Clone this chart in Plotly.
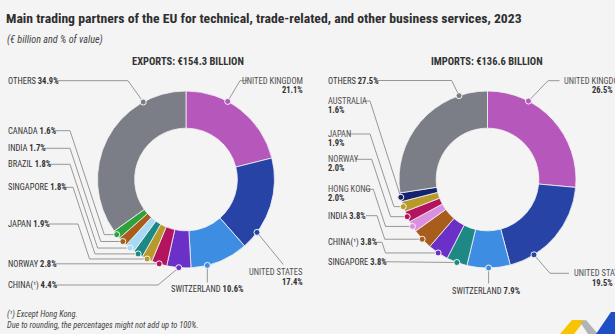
import math
import plotly.graph_objects as go

W, H = 615, 334
BG = "#F4F4F4"
FONT = "Roboto Condensed, Liberation Sans Narrow, Lato, sans-serif"

# ---------------- data ----------------
exp_labels = ["UNITED KINGDOM", "UNITED STATES", "SWITZERLAND", "CHINA(¹)", "NORWAY",
              "JAPAN", "SINGAPORE", "BRAZIL", "INDIA", "CANADA", "OTHERS"]
exp_values = [21.1, 17.4, 10.6, 4.4, 2.8, 1.9, 1.8, 1.8, 1.7, 1.6, 34.9]
exp_total = 154.3

imp_labels = ["UNITED KINGDOM", "UNITED STATES", "SWITZERLAND", "SINGAPORE", "CHINA(¹)",
              "INDIA", "HONG KONG", "NORWAY", "JAPAN", "AUSTRALIA", "OTHERS"]
imp_values = [26.5, 19.5, 7.9, 3.8, 3.8, 3.8, 2.0, 2.0, 1.9, 1.6, 27.5]
imp_total = 136.6

COLOR = {
    "UNITED KINGDOM": "#B657BC", "UNITED STATES": "#2743A6", "SWITZERLAND": "#3D8EE3",
    "CHINA(¹)": "#6B30C8", "NORWAY": "#B3145F", "JAPAN": "#B89A2A", "SINGAPORE": "#1E8884",
    "BRAZIL": "#A8DAF6", "INDIA": "#A85D1C", "CANADA": "#2EA23A", "OTHERS": "#7B7E86",
    "HONG KONG": "#DB8FE0", "AUSTRALIA": "#14236E",
}

# ---------------- layout (pixels) ----------------
R = 88.5
EXP_C = (186.0, 179.5)
IMP_C = (487.5, 179.5)
HOLE = 0.58
LS = 8.5  # label font size

# where along each slice (0..1) the leader dot sits
exp_anchor = [0.37, 0.81, 0.72, 0.5, 0.5, 0.5, 0.5, 0.5, 0.5, 0.5, 0.77]
imp_anchor = [0.29, 0.76, 0.5, 0.5, 0.5, 0.5, 0.5, 0.5, 0.5, 0.5, 0.81]

exp_lab = {
    "UNITED KINGDOM": dict(lines=[("UNITED KINGDOM", 80.7, False), ("21.1%", 89.9, True)], x=305, xa="right",
                           path=("pre", [(248, 80.7), (240, 80.7)])),
    "UNITED STATES": dict(lines=[("UNITED STATES", 271.7, False), ("17.4%", 281.7, True)], x=305, xa="right",
                          path=("post", [(283.3, 264.5)])),
    "SWITZERLAND": dict(lines=[("SWITZERLAND <b>10.6%</b>", 289.3, None)], x=207, xa="center",
                        path=("down", 282.5)),
    "CHINA(¹)": dict(lines=[("CHINA(¹) <b>4.4%</b>", 285, None)], x=6, xa="left",
                     path=("pre", [(55, 285), (158, 285)])),
    "NORWAY": dict(lines=[("NORWAY <b>2.8%</b>", 263.8, None)], x=6, xa="left", path=("left", 54, None)),
    "JAPAN": dict(lines=[("JAPAN <b>1.9%</b>", 224, None)], x=6, xa="left", path=("left", 49, 78)),
    "SINGAPORE": dict(lines=[("SINGAPORE <b>1.8%</b>", 187.3, None)], x=6, xa="left", path=("left", 62, 73)),
    "BRAZIL": dict(lines=[("BRAZIL <b>1.8%</b>", 164.3, None)], x=6, xa="left", path=("left", 48, 70)),
    "INDIA": dict(lines=[("INDIA <b>1.7%</b>", 148.3, None)], x=6, xa="left", path=("left", 45, 70)),
    "CANADA": dict(lines=[("CANADA <b>1.6%</b>", 130.7, None)], x=6, xa="left", path=("left", 53, 70)),
    "OTHERS": dict(lines=[("OTHERS <b>34.9%</b>", 80.7, None)], x=6, xa="left",
                   path=("pre", [(55, 80.7), (128, 80.7)])),
}
imp_lab = {
    "UNITED KINGDOM": dict(lines=[("UNITED KINGDOM", 80.7, False)], x=562, xa="left",
                           extra=[("26.5%", 89.9, 615)],
                           path=("pre", [(559.5, 80.7), (548, 80.7)])),
    "UNITED STATES": dict(lines=[("UNITED STATES", 273.3, False)], x=572, xa="left",
                          extra=[("19.5%", 282.7, 615)],
                          path=("post", [(550, 273.3), (569, 273.3)])),
    "SWITZERLAND": dict(lines=[("SWITZERLAND <b>7.9%</b>", 290.7, None)], x=486, xa="center",
                        path=("down", 283.5)),
    "SINGAPORE": dict(lines=[("SINGAPORE <b>3.8%</b>", 261.7, None)], x=326, xa="left", path=("left", 382, None)),
    "CHINA(¹)": dict(lines=[("CHINA(¹) <b>3.8%</b>", 242.3, None)], x=326, xa="left", path=("left", 375, 382)),
    "INDIA": dict(lines=[("INDIA <b>3.8%</b>", 215.7, None)], x=326, xa="left", path=("left", 366, 377)),
    "HONG KONG": dict(lines=[("HONG KONG", 189.3, False), ("2.0%", 198.3, True)], x=326, xa="left",
                      path=("left", 365, 373.3)),
    "NORWAY": dict(lines=[("NORWAY", 159.3, False), ("2.0%", 168.5, True)], x=326, xa="left",
                   path=("left", 355, 371.7)),
    "JAPAN": dict(lines=[("JAPAN", 134, False), ("1.9%", 143.2, True)], x=326, xa="left",
                  path=("left", 348, 370)),
    "AUSTRALIA": dict(lines=[("AUSTRALIA", 101, False), ("1.6%", 110, True)], x=326, xa="left",
                      path=("left", 363, 370)),
    "OTHERS": dict(lines=[("OTHERS <b>27.5%</b>", 80.5, None)], x=326, xa="left",
                   path=("pre", [(375, 80.5), (451.7, 80.5)])),
}

NAME_COL = "#505050"
PCT_COL = "#333333"
LINE_COL = "#8C8C8C"


def px(x):
    return x / W


def py(y):
    return 1 - y / H


fig = go.Figure()
annotations = []
shapes = []


def add_donut(labels, values, center, anchors, labspec):
    cx, cy = center
    fig.add_trace(go.Pie(
        labels=labels, values=values, sort=False, direction="clockwise", rotation=0,
        hole=HOLE, textinfo="none", hoverinfo="label+value",
        marker=dict(colors=[COLOR[l] for l in labels], line=dict(color="#F4F4F4", width=0.8)),
        domain=dict(x=[px(cx - R), px(cx + R)], y=[py(cy + R), py(cy - R)]),
        showlegend=False,
    ))
    total = sum(values)
    cum = 0.0
    for lab, v, fr in zip(labels, values, anchors):
        ang = 2 * math.pi * (cum + fr * v) / total
        cum += v
        dx = cx + R * math.sin(ang)
        dy = cy - R * math.cos(ang)
        spec = labspec[lab]
        kind = spec["path"][0]
        if kind == "pre":
            pts = spec["path"][1] + [(dx, dy)]
        elif kind == "post":
            pts = [(dx, dy)] + spec["path"][1]
        elif kind == "down":
            pts = [(dx, dy), (dx, spec["path"][1])]
        else:
            x0, xe = spec["path"][1], spec["path"][2]
            yl = spec["lines"][0][1]
            if xe is None:
                pts = [(x0, yl), (dx, dy)]
            else:
                xs = xe + 0.33 * (dy - yl)
                if xs >= dx - 1:
                    pts = [(x0, yl), (xe, yl), (dx, dy)]
                else:
                    pts = [(x0, yl), (xe, yl), (xs, dy), (dx, dy)]
        path = "M " + " L ".join(f"{a:.2f},{b:.2f}" for a, b in pts)
        shapes.append(dict(type="path", xref="x", yref="y", path=path,
                           line=dict(color=LINE_COL, width=0.9), layer="above"))
        r = 3.0
        shapes.append(dict(type="circle", xref="x", yref="y", x0=dx - r, x1=dx + r, y0=dy - r, y1=dy + r,
                           fillcolor=COLOR[lab], line=dict(color="#F4F4F4", width=1), layer="above"))
        for txt, yy, bold in spec["lines"]:
            t = f"<b>{txt}</b>" if bold is True else txt
            annotations.append(dict(x=px(spec["x"]), y=py(yy), xref="paper", yref="paper", text=t,
                                    showarrow=False, xanchor=spec["xa"], yanchor="middle",
                                    font=dict(family=FONT, size=LS, color=NAME_COL if bold is False else PCT_COL)))
        for txt, yy, xr in spec.get("extra", []):
            annotations.append(dict(x=px(xr), y=py(yy), xref="paper", yref="paper", text=f"<b>{txt}</b>",
                                    showarrow=False, xanchor="right", yanchor="middle",
                                    font=dict(family=FONT, size=LS, color=PCT_COL)))


add_donut(exp_labels, exp_values, EXP_C, exp_anchor, exp_lab)
add_donut(imp_labels, imp_values, IMP_C, imp_anchor, imp_lab)

fig.add_trace(go.Scatter(x=[0, W], y=[0, H], mode="markers", marker=dict(opacity=0), hoverinfo="skip",
                         showlegend=False))

annotations += [
    dict(x=px(4), y=py(18.5), xref="paper", yref="paper", xanchor="left", yanchor="middle", showarrow=False,
         text="<b>Main trading partners of the EU for technical, trade-related, and other business services, 2023</b>",
         font=dict(family=FONT, size=13.7, color="#2E2E2E")),
    dict(x=px(5), y=py(40), xref="paper", yref="paper", xanchor="left", yanchor="middle", showarrow=False,
         text="<i>(€ billion and % of value)</i>", font=dict(family=FONT, size=10.2, color="#444444")),
    dict(x=px(EXP_C[0] + 1.5), y=py(61), xref="paper", yref="paper", xanchor="center", yanchor="middle",
         showarrow=False, text=f"<b>EXPORTS: €{exp_total} BILLION</b>",
         font=dict(family=FONT, size=10.5, color="#333333")),
    dict(x=px(IMP_C[0] - 1), y=py(61), xref="paper", yref="paper", xanchor="center", yanchor="middle",
         showarrow=False, text=f"<b>IMPORTS: €{imp_total} BILLION</b>",
         font=dict(family=FONT, size=10.5, color="#333333")),
    dict(x=px(5), y=py(314.5), xref="paper", yref="paper", xanchor="left", yanchor="middle", showarrow=False,
         text="<i>(¹) Except Hong Kong.</i>", font=dict(family=FONT, size=8.4, color="#444444")),
    dict(x=px(5), y=py(324.5), xref="paper", yref="paper", xanchor="left", yanchor="middle", showarrow=False,
         text="<i>Due to rounding, the percentages might not add up to 100%.</i>",
         font=dict(family=FONT, size=8.4, color="#444444")),
]

shapes += [
    dict(type="path", xref="x", yref="y", path="M 560,334 L 572,320 L 585,320 L 574,334 Z",
         fillcolor="#F6C400", line=dict(width=0), layer="above"),
    dict(type="path", xref="x", yref="y", path="M 580,322 L 586,320 L 598,334 L 588,334 Z",
         fillcolor="#B0B3B8", line=dict(width=0), layer="above"),
    dict(type="path", xref="x", yref="y", path="M 596,334 L 611,312 L 615,312 L 615,334 Z",
         fillcolor="#1F4FC4", line=dict(width=0), layer="above"),
]

fig.update_layout(
    width=W, height=H, margin=dict(l=0, r=0, t=0, b=0),
    paper_bgcolor=BG, plot_bgcolor=BG,
    xaxis=dict(range=[0, W], visible=False, fixedrange=True),
    yaxis=dict(range=[H, 0], visible=False, fixedrange=True),
    annotations=annotations, shapes=shapes, showlegend=False,
)

fig.write_html("out.html")
